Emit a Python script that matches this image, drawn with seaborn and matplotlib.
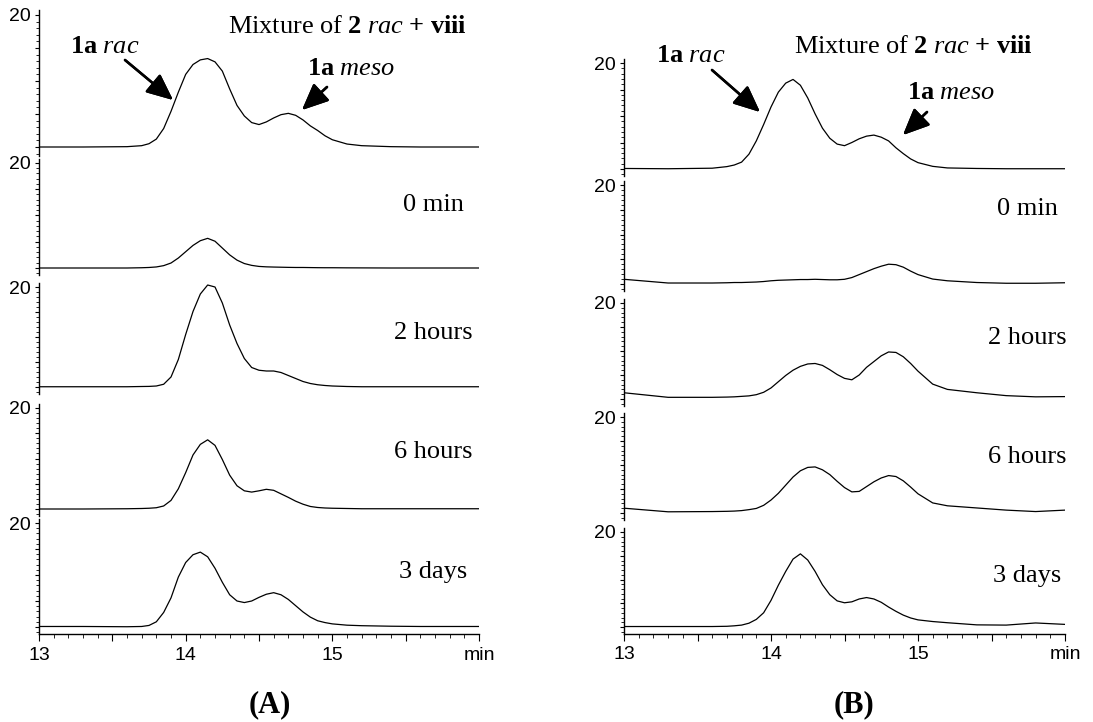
import numpy as np
import pandas as pd
import matplotlib.pyplot as plt
from matplotlib.ticker import MultipleLocator
import seaborn as sns

# retention time grid (min), shared by every trace
time_min = [13.0, 13.3, 13.6, 13.7, 13.75, 13.8, 13.85, 13.9, 13.95,
            14.0, 14.05, 14.1, 14.15, 14.2, 14.25, 14.3, 14.35, 14.4, 14.45,
            14.5, 14.55, 14.6, 14.65, 14.7, 14.75, 14.8, 14.85, 14.9, 14.95,
            15.0, 15.1, 15.2, 15.4, 15.6, 15.8, 16.0]

# panel (A) detector signal
a_mixture = [0, 0, 0.05, 0.2, 0.5, 1.2, 2.8, 5.4, 8.3,
             11.0, 12.5, 13.2, 13.4, 12.9, 11.5, 8.8, 6.3, 4.7, 3.7,
             3.4, 3.8, 4.4, 4.9, 5.1, 4.8, 4.1, 3.2, 2.5, 1.7,
             1.1, 0.45, 0.2, 0.05, 0, 0, 0]
a_0min = [0, 0, 0, 0.05, 0.1, 0.2, 0.45, 0.95, 1.9,
          3.1, 4.3, 5.2, 5.65, 5.1, 3.8, 2.5, 1.5, 0.85, 0.5,
          0.3, 0.22, 0.18, 0.15, 0.12, 0.1, 0.1, 0.08, 0.06, 0.05,
          0.05, 0.03, 0.02, 0, 0, 0, 0]
a_2h = [0.05, 0.05, 0.05, 0.1, 0.12, 0.2, 0.55, 2.0, 5.5,
        10.5, 15.1, 18.6, 20.4, 20.0, 16.8, 12.4, 8.7, 5.7, 3.9,
        3.35, 3.2, 3.2, 2.9, 2.3, 1.7, 1.1, 0.7, 0.45, 0.3,
        0.2, 0.1, 0.05, 0.05, 0.05, 0.05, 0.05]
a_6h = [0, 0, 0.05, 0.1, 0.15, 0.25, 0.6, 1.7, 4.0,
        7.2, 10.7, 12.8, 13.7, 12.6, 9.8, 6.7, 4.6, 3.6, 3.35,
        3.6, 3.9, 3.7, 3.0, 2.3, 1.55, 0.95, 0.5, 0.3, 0.2,
        0.15, 0.1, 0.05, 0.05, 0.05, 0.05, 0.05]
a_3d = [0.1, 0.1, 0.05, 0.1, 0.3, 1.0, 2.8, 5.6, 9.6,
        12.4, 13.9, 14.4, 13.5, 11.3, 8.6, 6.2, 5.0, 4.7, 5.0,
        5.7, 6.3, 6.6, 6.2, 5.3, 4.1, 2.9, 1.9, 1.2, 0.85,
        0.6, 0.35, 0.25, 0.15, 0.1, 0.1, 0.1]

# panel (B)
b_mixture = [0.1, 0.05, 0.15, 0.45, 0.75, 1.3, 2.8, 5.3, 8.4,
             11.7, 14.5, 16.2, 16.9, 15.8, 13.4, 10.4, 7.7, 5.8, 4.7,
             4.4, 5.0, 5.7, 6.2, 6.4, 6.0, 5.3, 4.0, 2.9, 1.9,
             1.2, 0.5, 0.2, 0.1, 0.05, 0.05, 0.05]
b_0min = [0.95, 0.2, 0.2, 0.25, 0.3, 0.3, 0.35, 0.4, 0.5,
          0.65, 0.75, 0.8, 0.85, 0.9, 0.9, 0.95, 0.9, 0.85, 0.85,
          0.95, 1.3, 1.9, 2.5, 3.1, 3.6, 4.0, 3.9, 3.4, 2.6,
          1.9, 1.0, 0.65, 0.3, 0.15, 0.15, 0.25]
b_2h = [1.3, 0.35, 0.35, 0.4, 0.45, 0.55, 0.65, 0.9, 1.4,
        2.3, 3.6, 4.9, 6.0, 6.8, 7.3, 7.4, 7.0, 6.1, 5.1,
        4.3, 4.0, 5.0, 6.6, 7.8, 9.0, 9.8, 9.7, 8.8, 7.4,
        5.8, 3.1, 2.0, 1.3, 0.7, 0.45, 0.5]
b_6h = [1.0, 0.25, 0.3, 0.35, 0.4, 0.5, 0.7, 0.95, 1.6,
        2.7, 4.1, 5.8, 7.5, 8.8, 9.5, 9.6, 9.0, 8.0, 6.6,
        5.3, 4.4, 4.5, 5.5, 6.5, 7.3, 7.8, 7.6, 6.7, 5.4,
        4.0, 2.1, 1.5, 1.05, 0.6, 0.3, 0.6]
b_3d = [0.1, 0.1, 0.1, 0.15, 0.25, 0.4, 0.8, 1.6, 3.0,
        5.6, 8.8, 11.7, 14.3, 15.4, 14.1, 11.7, 8.9, 6.8, 5.5,
        5.1, 5.3, 5.9, 6.2, 5.9, 5.2, 4.2, 3.3, 2.5, 1.9,
        1.5, 1.15, 0.9, 0.45, 0.4, 0.85, 0.55]

trace_labels = ["", "0 min", "2 hours", "6 hours", "3 days"]
x_ticks = [13, 13.5, 14, 14.5, 15, 15.5, 16]
x_ticklabels = ["13", "", "14", "", "15", "", "min"]
y_ticks = [0, 5, 10, 15, 20]
y_ticklabels = ["", "", "", "", "20"]

mixture_text = r"$\mathrm{Mixture\ of\ }\mathbf{2}\ \mathit{rac}\ \mathbf{+\ viii}$"
rac_text = r"$\mathbf{1a}\ \mathit{rac}$"
meso_text = r"$\mathbf{1a}\ \mathit{meso}$"

W, H = 1093, 722

sns.set_style("ticks", rc={"axes.edgecolor": "black", "xtick.color": "black",
                           "ytick.color": "black", "text.color": "black"})
plt.rcParams["font.family"] = ["Liberation Sans", "DejaVu Sans"]
plt.rcParams["mathtext.fontset"] = "custom"
plt.rcParams["mathtext.rm"] = "Liberation Serif"
plt.rcParams["mathtext.it"] = "Liberation Serif:italic"
plt.rcParams["mathtext.bf"] = "Liberation Serif:bold"

# layout in pixels: x of 13 and 16 min, and (y of "20", y of 0) for each trace
panels = [
    {"name": "(A)", "traces": [a_mixture, a_0min, a_2h, a_6h, a_3d],
     "x": (39, 479), "y": [(15, 147), (163, 268), (287, 387), (408, 509), (523, 627)],
     "label_x": 433, "label_y": [0, 211, 339, 458, 578],
     "mix": (347, 33), "rac": (105, 53), "meso": (351, 75),
     "rac_arrow": ((125, 60), (173, 100)), "meso_arrow": ((327, 87), (302, 110)),
     "title": (270, 712)},
    {"name": "(B)", "traces": [b_mixture, b_0min, b_2h, b_6h, b_3d],
     "x": (624, 1065), "y": [(63, 169), (185, 284), (303, 399), (417, 513), (532, 627)],
     "label_x": 1027, "label_y": [0, 215, 344, 463, 582],
     "mix": (913, 53), "rac": (691, 62), "meso": (951, 99),
     "rac_arrow": ((712, 70), (760, 112)), "meso_arrow": ((927, 112), (903, 135)),
     "title": (854, 712)},
]

fig = plt.figure(figsize=(W / 100, H / 100), dpi=100)
lo, hi = -1.4, 20.8


def fx(x):
    return x / W


def fy(y):
    return 1 - y / H


for panel in panels:
    x0, x1 = panel["x"]
    n = len(panel["traces"])
    for i, (values, (y20, y0)) in enumerate(zip(panel["traces"], panel["y"])):
        s = (y0 - y20) / 20
        top = y20 - (hi - 20) * s
        bottom = y0 - lo * s
        ax = fig.add_axes([fx(x0), fy(bottom), (x1 - x0) / W, (bottom - top) / H])
        ax.patch.set_alpha(0)
        df = pd.DataFrame({"time": time_min, "signal": values})
        line = sns.lineplot(data=df, x="time", y="signal", color="black", lw=0.9, ax=ax)
        for ln in ax.lines:
            ln.set_solid_joinstyle("round")
        ax.set(xlabel="", ylabel="")
        ax.set_xlim(13, 16)
        ax.set_ylim(lo, hi)
        sns.despine(ax=ax)
        ax.spines["left"].set_linewidth(1.0)
        ax.set_yticks(y_ticks, y_ticklabels)
        ax.yaxis.set_minor_locator(MultipleLocator(1))
        ax.tick_params(axis="y", which="major", direction="out", length=3, width=0.8,
                       pad=3, labelsize=14)
        ax.tick_params(axis="y", which="minor", direction="out", length=2, width=0.6)
        if i < n - 1:
            ax.spines["bottom"].set_visible(False)
            ax.set_xticks([])
        else:
            ax.spines["bottom"].set_linewidth(1.0)
            ax.set_xticks(x_ticks, x_ticklabels)
            ax.xaxis.set_minor_locator(MultipleLocator(0.1))
            ax.tick_params(axis="x", which="major", direction="out", length=5, width=0.8,
                           pad=4, labelsize=14)
            ax.tick_params(axis="x", which="minor", direction="out", length=3, width=0.6)
        if trace_labels[i]:
            fig.text(fx(panel["label_x"]), fy(panel["label_y"][i]), trace_labels[i],
                     family="Liberation Serif", fontsize=19, ha="center", va="baseline")

    fig.text(fx(panel["mix"][0]), fy(panel["mix"][1]), mixture_text,
             fontsize=19, ha="center", va="baseline")
    fig.text(fx(panel["rac"][0]), fy(panel["rac"][1]), rac_text,
             fontsize=19, ha="center", va="baseline")
    fig.text(fx(panel["meso"][0]), fy(panel["meso"][1]), meso_text,
             fontsize=19, ha="center", va="baseline")
    for tail, tip in [panel["rac_arrow"], panel["meso_arrow"]]:
        fig.add_artist(plt.annotate("", xy=(tip[0], H - tip[1]), xytext=(tail[0], H - tail[1]),
                                    xycoords="figure pixels", textcoords="figure pixels",
                                    arrowprops=dict(arrowstyle="-|>,head_length=0.9,head_width=0.4",
                                                    color="black", lw=1.8, shrinkA=0, shrinkB=0,
                                                    mutation_scale=18)))
    fig.text(fx(panel["title"][0]), fy(panel["title"][1]), panel["name"],
             family="Liberation Serif", fontweight="bold", fontsize=22,
             ha="center", va="baseline")

fig.savefig("out.png", dpi=100)
